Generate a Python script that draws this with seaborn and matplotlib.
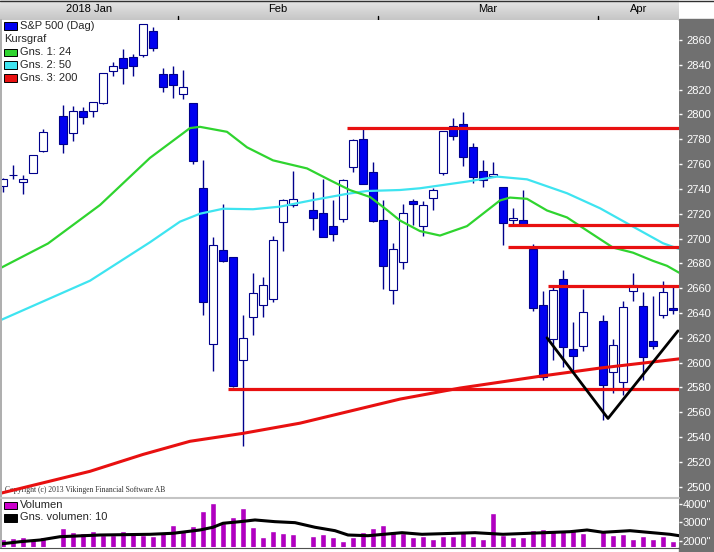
import numpy as np
import pandas as pd
import matplotlib
matplotlib.use("Agg")
import matplotlib.pyplot as plt
from matplotlib.patches import Rectangle
from matplotlib.lines import Line2D
from matplotlib.colors import LinearSegmentedColormap
import seaborn as sns

# --- Daily candles, S&P 500 ---
dates = [
    "2018-01-08", "2018-01-09", "2018-01-10", "2018-01-11", "2018-01-12",
    "2018-01-16", "2018-01-17", "2018-01-18", "2018-01-19", "2018-01-22",
    "2018-01-23", "2018-01-24", "2018-01-25", "2018-01-26", "2018-01-29",
    "2018-01-30", "2018-01-31",
    "2018-02-01", "2018-02-02", "2018-02-05", "2018-02-06", "2018-02-07",
    "2018-02-08", "2018-02-09", "2018-02-12", "2018-02-13", "2018-02-14",
    "2018-02-15", "2018-02-16", "2018-02-20", "2018-02-21", "2018-02-22",
    "2018-02-23", "2018-02-26", "2018-02-27", "2018-02-28",
    "2018-03-01", "2018-03-02", "2018-03-05", "2018-03-06", "2018-03-07",
    "2018-03-08", "2018-03-09", "2018-03-12", "2018-03-13", "2018-03-14",
    "2018-03-15", "2018-03-16", "2018-03-19", "2018-03-20", "2018-03-21",
    "2018-03-22", "2018-03-23", "2018-03-26", "2018-03-27", "2018-03-28",
    "2018-03-29",
    "2018-04-02", "2018-04-03", "2018-04-04", "2018-04-05", "2018-04-06",
    "2018-04-09", "2018-04-10", "2018-04-11",
]
opens = [
    2742.7, 2751.2, 2745.6, 2753.0, 2770.2, 2799.0, 2785.0, 2802.4, 2802.6, 2809.2,
    2835.1, 2845.4, 2846.2, 2847.5, 2867.2, 2832.7, 2832.4,
    2816.5, 2808.9, 2741.1, 2614.8, 2691.0, 2685.0, 2601.8, 2636.8, 2646.3, 2651.2,
    2713.5, 2727.1, 2723.0, 2720.5, 2710.4, 2715.8, 2757.4, 2780.5, 2753.8,
    2715.2, 2658.9, 2681.1, 2730.2, 2710.2, 2732.8, 2752.9, 2790.5, 2792.3, 2774.1,
    2754.3, 2750.6, 2741.4, 2715.1, 2715.0, 2691.4, 2646.7, 2619.4, 2667.6, 2611.3,
    2613.0,
    2633.5, 2592.2, 2584.0, 2657.4, 2645.8, 2617.2, 2638.4, 2644.0,
]
highs = [
    2748.5, 2759.1, 2750.8, 2767.6, 2787.9, 2807.5, 2807.0, 2805.8, 2810.3, 2833.0,
    2842.2, 2853.0, 2848.6, 2872.9, 2870.6, 2837.8, 2839.3,
    2836.0, 2808.9, 2763.4, 2701.0, 2727.7, 2685.3, 2638.7, 2672.6, 2668.8, 2702.1,
    2731.5, 2754.4, 2737.6, 2747.8, 2731.3, 2747.8, 2780.6, 2789.2, 2761.5,
    2730.9, 2696.3, 2728.1, 2732.1, 2730.6, 2740.5, 2786.6, 2797.0, 2801.9, 2777.1,
    2763.0, 2761.9, 2741.4, 2724.2, 2739.1, 2695.7, 2657.7, 2661.4, 2674.8, 2632.7,
    2659.1,
    2638.3, 2619.1, 2649.9, 2672.1, 2656.9, 2653.6, 2665.5, 2661.4,
]
lows = [
    2737.6, 2747.9, 2736.1, 2752.8, 2769.6, 2768.6, 2778.4, 2792.6, 2798.1, 2808.1,
    2830.6, 2824.8, 2830.9, 2846.2, 2851.5, 2818.3, 2813.0,
    2812.7, 2760.0, 2638.2, 2593.1, 2681.3, 2580.6, 2532.7, 2622.5, 2637.1, 2648.9,
    2689.8, 2725.1, 2706.8, 2701.3, 2697.8, 2713.7, 2753.8, 2744.2, 2713.5,
    2659.7, 2647.3, 2675.8, 2711.3, 2701.7, 2722.7, 2751.5, 2779.3, 2758.7, 2744.4,
    2741.5, 2750.0, 2694.6, 2710.1, 2709.8, 2641.6, 2585.9, 2601.8, 2596.1, 2593.1,
    2609.7,
    2553.8, 2575.5, 2573.6, 2649.6, 2586.3, 2610.8, 2635.8, 2639.3,
]
closes = [
    2747.7, 2751.3, 2748.2, 2767.6, 2786.2, 2776.4, 2802.6, 2798.0, 2810.3, 2833.0,
    2839.1, 2837.5, 2839.3, 2872.9, 2853.5, 2822.4, 2823.8,
    2822.0, 2762.1, 2648.9, 2695.1, 2681.7, 2581.0, 2619.6, 2656.0, 2662.9, 2698.6,
    2731.2, 2732.2, 2716.3, 2701.3, 2704.0, 2747.3, 2779.6, 2744.3, 2713.8,
    2677.7, 2691.3, 2720.9, 2728.1, 2726.8, 2739.0, 2786.6, 2783.0, 2765.3, 2749.5,
    2747.3, 2752.0, 2712.9, 2716.9, 2711.9, 2643.7, 2588.3, 2658.6, 2612.6, 2605.0,
    2640.9,
    2581.9, 2614.5, 2644.7, 2662.8, 2604.5, 2613.2, 2656.9, 2642.2,
]
volume = [
    2076, 2131, 2186, 2093, 2186, 2677, 2459, 2437, 2530, 2311,
    2311, 2530, 2437, 2311, 2273, 2491, 2857,
    2584, 2819, 3638, 4075, 2950, 3311, 3769, 2765, 2219, 2546,
    2437, 2350, 2273, 2350, 2219, 2000, 2219, 2491, 2710,
    2857, 2546, 2437, 2219, 2273, 2093, 2273, 2273, 2491, 2273,
    2076, 3529, 2311, 2219, 2219, 2584, 2639, 2584, 2584, 2639,
    2437,
    2584, 2311, 2350, 2093, 2273, 2076, 2273, 1985,
]

# --- Moving averages (position in weekday slots, value) ---
ma24_pos = [-0.3, 4.5, 9.7, 14.7, 18.7, 19.7, 22.4, 24.4, 27.0, 30.4, 32.7, 34.7,
            36.7, 38.4, 39.7, 41.7, 43.7, 46.4, 49.7, 50.7, 52.4, 54.4, 56.4,
            58.4, 61.0, 63.0, 65.0, 66.4, 67.6]
ma24_val = [2676, 2696, 2727, 2765, 2789, 2790, 2786, 2773.5, 2763, 2756.5, 2747,
            2739, 2733.5, 2723, 2714.5, 2706, 2702.4, 2710, 2730.7, 2733, 2732,
            2722.6, 2717, 2706.4, 2692.7, 2688.6, 2682, 2678, 2672.5]
ma50_pos = [-0.3, 8.7, 14.7, 17.7, 19.7, 22.0, 25.0, 27.7, 31.0, 34.4, 36.4, 39.7,
            41.7, 46.4, 49.4, 52.4, 56.4, 59.7, 63.0, 66.0, 67.6]
ma50_val = [2634, 2666, 2697, 2713.6, 2720, 2724, 2723.6, 2725.7, 2731, 2736,
            2738.3, 2739.1, 2740.5, 2745.9, 2749.9, 2747.7, 2736.5, 2724.4, 2709.6,
            2696.2, 2691.6]
ma200_pos = [-0.3, 4.2, 8.7, 14.0, 18.7, 24.0, 29.7, 39.7, 45.7, 53.7, 59.7, 67.6]
ma200_val = [2494.6, 2503.5, 2512.4, 2526, 2536.6, 2543, 2551.2, 2570.6, 2579.5,
             2589, 2595.6, 2603]
vol_ma_pos = [-0.3, 1.7, 3.7, 5.7, 9.7, 14.7, 17.0, 19.7, 21.0, 22.0, 23.7, 25.2,
              27.2, 29.2, 31.2, 33.2, 34.5, 36.5, 39.9, 41.9, 47.2, 50.0, 56.7,
              58.4, 60.0, 62.7, 66.7, 67.6]
vol_ma_val = [1820, 1945, 2038, 2218, 2311, 2349, 2404, 2584, 2732, 2950, 3037,
              3130, 3037, 2983, 2732, 2546, 2311, 2273, 2437, 2349, 2437, 2349,
              2491, 2584, 2459, 2546, 2349, 2273]

# drawn support / resistance lines (level, start slot) and the black V
level_vals = [2789, 2710.5, 2693.5, 2662, 2579]
level_start = [34.4, 50.5, 50.5, 54.5, 22.5]
v_pos = [54.4, 60.5, 67.5]
v_val = [2620, 2555, 2625.6]

month_labels = ["2018 Jan", "Feb", "Mar", "Apr"]
price_ticks = list(range(2500, 2861, 20))
vol_ticks = [2000, 3000, 4000]

# --- colours ---
BLUE = "#0000f0"
NAVY = "#00008b"
GREEN = "#2fd42f"
CYAN = "#3ee4f0"
RED = "#e81010"
MAGENTA = "#b000c0"
BAND = "#707070"

sns.set_style("white")
plt.rcParams["font.family"] = ["Liberation Sans", "DejaVu Sans"]

W, H = 714, 552
fig = plt.figure(figsize=(W / 100, H / 100), dpi=100)


def box(x0, y0, x1, y1):
    return [x0 / W, 1 - y1 / H, (x1 - x0) / W, (y1 - y0) / H]


slots = pd.bdate_range("2018-01-08", "2018-04-11")
pos = slots.get_indexer(pd.to_datetime(dates))
XLIM = (-0.1, 67.6)

o = np.array(opens)
c = np.array(closes)
up = c >= o

# --- right hand gray band (behind the axes so tick labels stay on top) ---
fig.patches.append(Rectangle((679 / W, 0), 35 / W, 1 - 19 / H,
                             transform=fig.transFigure, color=BAND, zorder=-5))

# --- header with month names ---
axh = fig.add_axes(box(0, 0, 679, 20))
grad = LinearSegmentedColormap.from_list("hdr", ["#e6e6e6", "#c6c6c6"])
axh.imshow(np.linspace(0, 1, 20)[:, None], cmap=grad, aspect="auto",
           extent=[-0.3, 67.6, 0, 1])
axh.set_xlim(-0.3, 67.6)
axh.set_ylim(0, 1)
axh.axis("off")
bounds = [i - 0.5 for i in range(1, len(slots)) if slots[i].month != slots[i - 1].month]
edges = [-0.3] + bounds + [67.6]
for k, lab in enumerate(month_labels):
    axh.text((edges[k] + edges[k + 1]) / 2, 0.55, lab, ha="center", va="center",
             fontsize=8, color="black")
for b in bounds:
    axh.plot([b, b], [0.0, 0.2], color="black", lw=1)

# --- price panel ---
ax = fig.add_axes(box(2, 21, 679, 497))
ax.set_facecolor("white")

ax.vlines(pos, lows, highs, color=NAVY, lw=1.0, zorder=3)
ax.bar(pos, np.abs(c - o), bottom=np.minimum(o, c), width=0.74,
       color=np.where(up, "white", BLUE), edgecolor=NAVY, lw=0.8, zorder=4)

sns.lineplot(x=ma200_pos, y=ma200_val, ax=ax, color=RED, lw=2.2, zorder=5)
sns.lineplot(x=ma50_pos, y=ma50_val, ax=ax, color=CYAN, lw=1.6, zorder=5)
sns.lineplot(x=ma24_pos, y=ma24_val, ax=ax, color=GREEN, lw=1.6, zorder=5)

for lvl, st in zip(level_vals, level_start):
    ax.hlines(lvl, st, XLIM[1], color=RED, lw=2.3, zorder=6)
sns.lineplot(x=v_pos, y=v_val, ax=ax, color="black", lw=2.0, zorder=7, sort=False)

ax.set_xlim(*XLIM)
ax.set_ylim(2491.7, 2875.3)
ax.set_xlabel("")
ax.set_ylabel("")
ax.set_xticks([])
ax.yaxis.tick_right()
ax.set_yticks(price_ticks)
ax.set_yticklabels([str(t) for t in price_ticks])
ax.tick_params(axis="y", right=True, left=False, length=2.5, width=1, color="white",
               labelcolor="white", labelsize=8, pad=2.5)
for s in ax.spines.values():
    s.set_visible(False)

ax.text(5 / W, 1 - 490 / H, "Copyright (c) 2013 Vikingen Financial Software AB",
        transform=fig.transFigure, family="Liberation Serif", fontsize=5.5,
        color="#303030", va="center", zorder=2)

# --- volume panel ---
axv = fig.add_axes(box(2, 499, 679, 547))
axv.bar(pos, volume, width=0.6, color=MAGENTA, zorder=3)
sns.lineplot(x=vol_ma_pos, y=vol_ma_val, ax=axv, color="black", lw=2.2, zorder=4)
axv.set_xlim(*XLIM)
axv.set_ylim(1657, 4272)
axv.set_xlabel("")
axv.set_ylabel("")
axv.set_xticks([])
axv.yaxis.tick_right()
axv.set_yticks(vol_ticks)
axv.set_yticklabels([f'{t}"' for t in vol_ticks])
axv.tick_params(axis="y", right=True, left=False, length=2, width=1, color="white",
                labelcolor="white", labelsize=8, pad=0.5)
for s in axv.spines.values():
    s.set_visible(False)

# --- frame lines ---
def fig_line(x0, y0, x1, y1, color, lw):
    fig.add_artist(Line2D([x0 / W, x1 / W], [1 - y0 / H, 1 - y1 / H],
                          transform=fig.transFigure, color=color, lw=lw))


fig_line(0, 0.5, W, 0.5, "#303030", 1.0)
fig_line(0.7, 20, 0.7, 548, "#a0a0a0", 1.2)
fig_line(0, 497.8, 679, 497.8, "#c4c4c4", 1.5)
fig_line(0, 547.6, 679, 547.6, "#505050", 0.8)

# --- legends ---
def legend_row(y, label, color):
    if color is not None:
        fig.patches.append(Rectangle((4 / W, 1 - (y + 4) / H), 13 / W, 7.5 / H,
                                     transform=fig.transFigure, facecolor=color,
                                     edgecolor="black", lw=0.7, zorder=10))
        fig.text(20 / W, 1 - y / H, label, fontsize=8, va="center", zorder=10)
    else:
        fig.text(4 / W, 1 - y / H, label, fontsize=8, va="center", zorder=10)


legend_row(26, "S&P 500 (Dag)", BLUE)
legend_row(39, "Kursgraf", None)
legend_row(52, "Gns. 1: 24", GREEN)
legend_row(64.8, "Gns. 2: 50", CYAN)
legend_row(77.6, "Gns. 3: 200", RED)
legend_row(505, "Volumen", "#cc00cc")
legend_row(517.5, "Gns. volumen: 10", "black")

fig.savefig("out.png", dpi=100)
